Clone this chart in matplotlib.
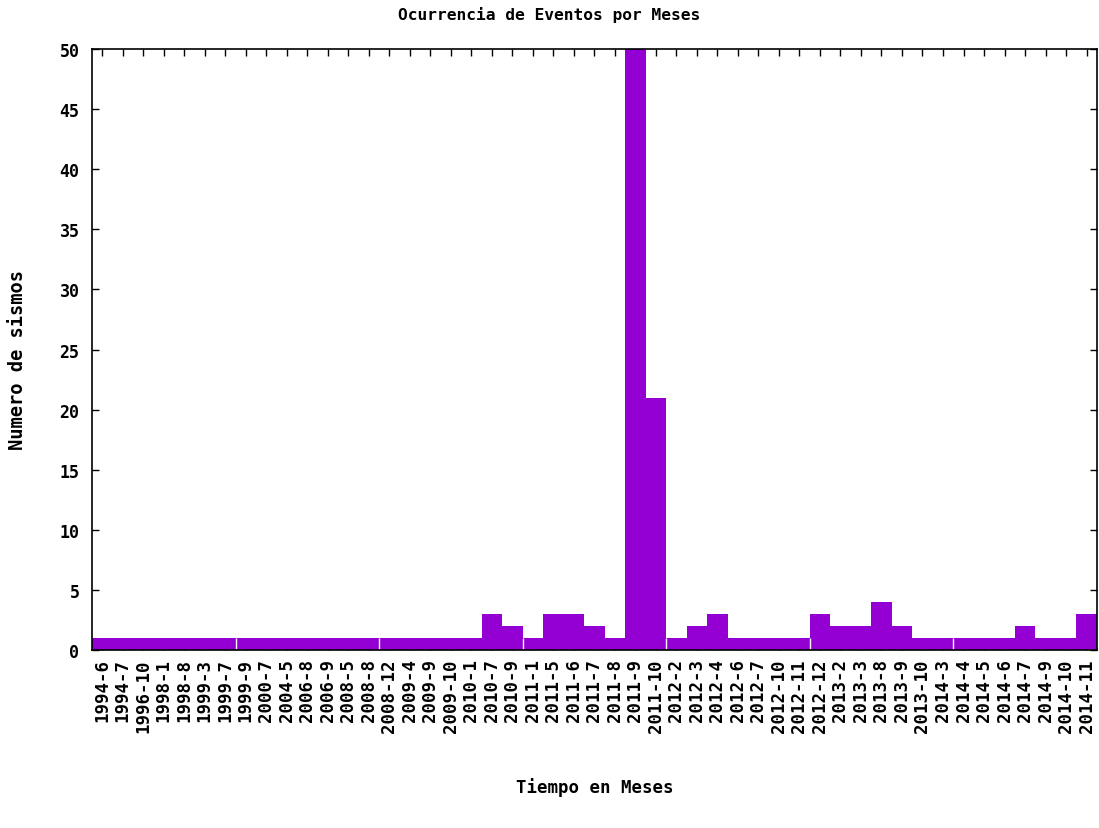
import numpy as np
import matplotlib.pyplot as plt

# meses con eventos registrados
meses = ["1994-6", "1994-7", "1996-10", "1998-1", "1998-8", "1999-3", "1999-7",
         "1999-9", "2000-7", "2004-5", "2006-8", "2006-9", "2008-5", "2008-8",
         "2008-12", "2009-4", "2009-9", "2009-10", "2010-1", "2010-7", "2010-9",
         "2011-1", "2011-5", "2011-6", "2011-7", "2011-8", "2011-9", "2011-10",
         "2012-2", "2012-3", "2012-4", "2012-6", "2012-7", "2012-10", "2012-11",
         "2012-12", "2013-2", "2013-3", "2013-8", "2013-9", "2013-10", "2014-3",
         "2014-4", "2014-5", "2014-6", "2014-7", "2014-9", "2014-10", "2014-11"]

# numero de sismos por mes (2011-9 sale del rango del eje)
sismos = [1, 1, 1, 1, 1, 1, 1,
          1, 1, 1, 1, 1, 1, 1,
          1, 1, 1, 1, 1, 3, 2,
          1, 3, 3, 2, 1, 60, 21,
          1, 2, 3, 1, 1, 1, 1,
          3, 2, 2, 4, 2, 1, 1,
          1, 1, 1, 2, 1, 1, 3]

fuente = "DejaVu Sans Mono"
x = np.arange(len(meses))

fig = plt.figure(figsize=(10.99, 8.29), dpi=100)
ax = fig.add_axes([0.0837, 0.2147, 0.9143, 0.725])

ax.bar(x, sismos, width=1.0, color="#9400d3", linewidth=0, zorder=2)

# lineas blancas entre grupos de cajas
for b in range(7, len(meses), 7):
    h = min(sismos[b - 1], sismos[b])
    ax.vlines(b - 0.5, 0, min(h, 50), color="white", linewidth=1, zorder=3)

ax.set_xlim(-0.5, len(meses) - 0.5)
ax.set_ylim(0, 50)
ax.set_xticks(x)
ax.set_xticklabels(meses, rotation=90, fontfamily=fuente, fontweight="bold", fontsize=12.5)
ax.set_yticks(range(0, 51, 5))
ax.set_yticklabels([str(v) for v in range(0, 51, 5)], fontfamily=fuente,
                   fontweight="bold", fontsize=12)
ax.tick_params(direction="in", length=5, width=1, top=True, right=True)
ax.tick_params(axis="y", pad=9)
ax.tick_params(axis="x", pad=6)
for s in ax.spines.values():
    s.set_linewidth(1.2)
    s.set_zorder(4)

fig.text(0.5, 1 - 15 / 829, "Ocurrencia de Eventos por Meses",
         ha="center", va="center", fontfamily=fuente, fontweight="bold", fontsize=11.7)
ax.set_xlabel("Tiempo en Meses", fontfamily=fuente, fontweight="bold", fontsize=12.5,
              va="center")
ax.xaxis.set_label_coords(0.5, (651 - 787) / 601)
ax.set_ylabel("Numero de sismos", fontfamily=fuente, fontweight="bold", fontsize=13.5,
              va="center")
ax.yaxis.set_label_coords((18 - 92) / 1005, 0.485)

fig.savefig("out.png", dpi=100)
